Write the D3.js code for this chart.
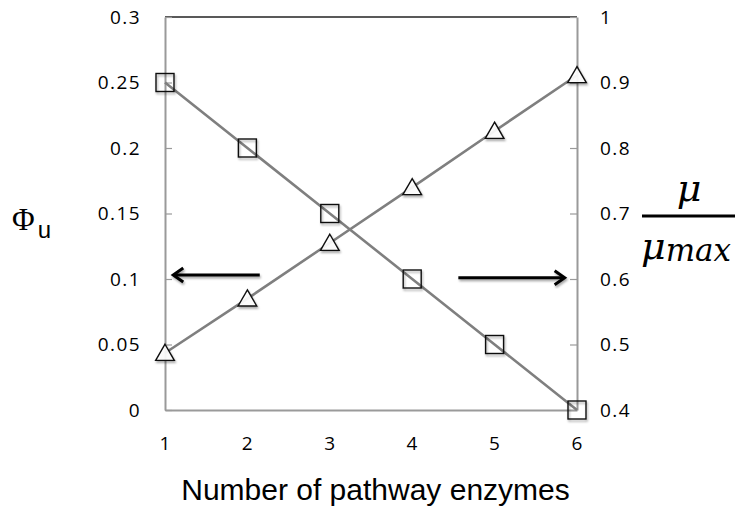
<!DOCTYPE html>
<html>
<head>
<meta charset="utf-8">
<script src="https://cdn.jsdelivr.net/npm/d3@7"></script>
<style>
  body { margin: 0; background: #fff; }
  svg { display: block; }
  .tick text { font-family: "Open Sans", sans-serif; font-size: 19px; fill: #000; letter-spacing: 1.4px; }
</style>
</head>
<body>
<div id="chart"></div>
<script>
// data
const enzymes = [1, 2, 3, 4, 5, 6];
const phiU = [0.25, 0.2, 0.15, 0.1, 0.05, 0];              // squares, left axis
const growthRatio = [0.487, 0.57, 0.655, 0.74, 0.826, 0.911]; // triangles, right axis
const leftTicks = [0, 0.05, 0.1, 0.15, 0.2, 0.25, 0.3];
const rightTicks = [0.4, 0.5, 0.6, 0.7, 0.8, 0.9, 1];

const W = 735, H = 507;
const svg = d3.select("#chart").append("svg")
    .attr("width", W)
    .attr("height", H);

const defs = svg.append("defs");
defs.append("filter").attr("id", "shadow")
    .attr("x", "-30%").attr("y", "-30%").attr("width", "160%").attr("height", "160%")
  .append("feDropShadow")
    .attr("dx", 1).attr("dy", 2).attr("stdDeviation", 1.3)
    .attr("flood-color", "#000").attr("flood-opacity", 0.35);

const x = d3.scaleLinear().domain([1, 6]).range([165, 577]);
const yL = d3.scaleLinear().domain([0, 0.3]).range([410, 17]);
const yR = d3.scaleLinear().domain([0.4, 1]).range([410, 17]);

// top border
svg.append("line")
    .attr("x1", x(1)).attr("x2", x(6))
    .attr("y1", yL(0.3)).attr("y2", yL(0.3))
    .attr("stroke", "#222").attr("stroke-width", 1.3);

// axes
const gL = svg.append("g")
    .attr("transform", `translate(${x(1)},0)`)
    .call(d3.axisLeft(yL).tickValues(leftTicks).tickFormat(d3.format("")).tickSizeInner(-7).tickSizeOuter(0).tickPadding(24));
const gR = svg.append("g")
    .attr("transform", `translate(${x(6)},0)`)
    .call(d3.axisRight(yR).tickValues(rightTicks).tickFormat(d3.format("")).tickSizeInner(-7).tickSizeOuter(0).tickPadding(23));
const gB = svg.append("g")
    .attr("transform", `translate(0,${yL(0)})`)
    .call(d3.axisBottom(x).tickValues(enzymes).tickFormat(d3.format("d")).tickSize(0).tickPadding(27));

[gL, gR, gB].forEach(g => {
    g.select(".domain").attr("stroke", "#9a9a9a").attr("stroke-width", 2);
    g.selectAll(".tick line").attr("stroke", "#9a9a9a").attr("stroke-width", 1.2);
});

// lines
const lineL = d3.line().x((d, i) => x(enzymes[i])).y(d => yL(d));
const lineR = d3.line().x((d, i) => x(enzymes[i])).y(d => yR(d));

svg.append("path").datum(phiU)
    .attr("d", lineL).attr("fill", "none")
    .attr("stroke", "#7f7f7f").attr("stroke-width", 2.6);
svg.append("path").datum(growthRatio)
    .attr("d", lineR).attr("fill", "none")
    .attr("stroke", "#7f7f7f").attr("stroke-width", 2.6);

// markers
const sq = 18;
svg.append("g").selectAll("rect")
    .data(phiU)
    .join("rect")
        .attr("x", (d, i) => x(enzymes[i]) - sq / 2)
        .attr("y", d => yL(d) - sq / 2)
        .attr("width", sq).attr("height", sq)
        .attr("fill", "none")
        .attr("stroke", "#111").attr("stroke-width", 1.4)
        .attr("filter", "url(#shadow)");

const tri = d3.symbol().type(d3.symbolTriangle).size(150);
svg.append("g").selectAll("path")
    .data(growthRatio)
    .join("path")
        .attr("d", tri)
        .attr("transform", (d, i) => `translate(${x(enzymes[i])},${yR(d) + 2})`)
        .attr("fill", "#fff")
        .attr("fill-opacity", 0.9)
        .attr("stroke", "#111").attr("stroke-width", 1.4)
        .attr("filter", "url(#shadow)");

// arrows pointing to the axes
const arrows = [
    { from: 2.15, to: 1.1, y: yL(0.103) },
    { from: 4.56, to: 5.85, y: yR(0.602) }
];
arrows.forEach(a => {
    const dir = a.to > a.from ? 1 : -1;
    const tip = x(a.to);
    const g = svg.append("g").attr("filter", "url(#shadow)");
    g.append("line")
        .attr("x1", x(a.from)).attr("x2", tip - dir * 1)
        .attr("y1", a.y).attr("y2", a.y)
        .attr("stroke", "#000").attr("stroke-width", 3);
    g.append("path")
        .attr("d", `M${tip - dir * 10},${a.y - 7}L${tip},${a.y}L${tip - dir * 10},${a.y + 7}`)
        .attr("fill", "none").attr("stroke", "#000").attr("stroke-width", 3)
        .attr("stroke-linejoin", "miter");
});

// axis titles
svg.append("text")
    .attr("x", W / 2 + 8).attr("y", 500)
    .attr("text-anchor", "middle")
    .style("font-family", "'Liberation Sans', Arial, sans-serif")
    .style("font-size", "30px")
    .text("Number of pathway enzymes");

const phi = svg.append("text")
    .attr("x", 12).attr("y", 230);
phi.append("tspan")
    .style("font-family", "'Liberation Serif', serif")
    .style("font-size", "31px")
    .text("Φ");
phi.append("tspan")
    .attr("dx", 3).attr("dy", 8)
    .style("font-family", "'Liberation Sans', sans-serif")
    .style("font-size", "24px")
    .text("u");

// mu / mu_max fraction
svg.append("text")
    .attr("x", 689).attr("y", 201)
    .attr("text-anchor", "middle")
    .style("font-family", "'DejaVu Serif', serif")
    .style("font-style", "italic")
    .style("font-size", "38px")
    .text("μ");
svg.append("line")
    .attr("x1", 642).attr("x2", 735)
    .attr("y1", 216).attr("y2", 216)
    .attr("stroke", "#000").attr("stroke-width", 3);
const mm = svg.append("text")
    .attr("x", 641).attr("y", 259)
    .style("font-family", "'DejaVu Serif', serif")
    .style("font-style", "italic");
mm.append("tspan").style("font-size", "38px").text("μ");
mm.append("tspan").attr("dy", 2).style("font-size", "31px").text("max");
</script>
</body>
</html>
